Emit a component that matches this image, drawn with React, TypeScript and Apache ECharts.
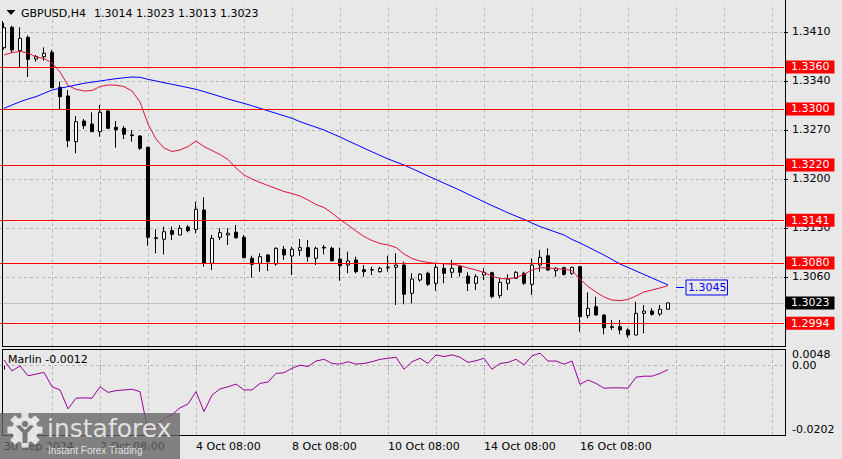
import React, { useEffect, useRef } from "react";
import * as echarts from "echarts";

// ---------- data ----------
const symbolTitle = "GBPUSD,H4";
const headerOHLC = ["1.3014", "1.3023", "1.3013", "1.3023"];
const indicatorTitle = "Marlin -0.0012";

const opens = [
  1.33876, 1.34168, 1.33833, 1.34024, 1.33714, 1.33747, 1.3381, 1.3331, 1.33186, 1.32533,
  1.32829, 1.32786, 1.32676, 1.32971, 1.32739, 1.32724, 1.3263, 1.32614, 1.32453, 1.3116,
  1.31139, 1.31262, 1.312, 1.31314, 1.31281, 1.31557, 1.30796, 1.31167, 1.312, 1.31239,
  1.31167, 1.30867, 1.30796, 1.30914, 1.30786, 1.30996, 1.309, 1.30981, 1.31019, 1.30867,
  1.31024, 1.3101, 1.30857, 1.30771, 1.30843, 1.30704, 1.30705, 1.30676, 1.3073, 1.30739,
  1.30771, 1.30367, 1.30557, 1.30653, 1.3051, 1.30724, 1.30667, 1.30747, 1.30614, 1.3051,
  1.30629, 1.30661, 1.30333, 1.3051, 1.30581, 1.30653, 1.30496, 1.30771, 1.30904, 1.30691,
  1.30733, 1.30653, 1.30747, 1.30047, 1.30176, 1.30057, 1.2989, 1.2989, 1.29843, 1.29771,
  1.30081, 1.30114, 1.30071, 1.3014,
];
const closes = [
  1.34161, 1.33843, 1.3401, 1.3371, 1.3375, 1.33796, 1.33304, 1.33176, 1.32547, 1.32819,
  1.32761, 1.32676, 1.32953, 1.32724, 1.32704, 1.32639, 1.3262, 1.32439, 1.31167, 1.3115,
  1.31247, 1.3121, 1.31296, 1.31262, 1.31567, 1.30796, 1.31153, 1.31233, 1.31224, 1.31161,
  1.30876, 1.30781, 1.3089, 1.30819, 1.3101, 1.30914, 1.30996, 1.31019, 1.3089, 1.3101,
  1.31014, 1.30833, 1.30761, 1.30829, 1.30676, 1.30676, 1.307, 1.30724, 1.3074, 1.30771,
  1.30353, 1.30571, 1.30639, 1.30496, 1.30739, 1.30653, 1.30724, 1.30667, 1.3051, 1.30604,
  1.30667, 1.30319, 1.30524, 1.30571, 1.30667, 1.3051, 1.30771, 1.30881, 1.307, 1.30724,
  1.30639, 1.30739, 1.30033, 1.30153, 1.30057, 1.29876, 1.2988, 1.29843, 1.29771, 1.30081,
  1.30114, 1.30067, 1.30139, 1.3023,
];
const lows = [
  1.3385, 1.338, 1.3359, 1.33457, 1.33676, 1.3369, 1.333, 1.32996, 1.32453, 1.32367,
  1.32714, 1.3267, 1.32604, 1.32714, 1.32447, 1.32571, 1.32533, 1.32414, 1.31047, 1.30939,
  1.30924, 1.31129, 1.312, 1.31239, 1.31224, 1.30747, 1.307, 1.31129, 1.31057, 1.3115,
  1.30867, 1.3059, 1.30676, 1.30686, 1.30762, 1.30843, 1.30629, 1.30904, 1.30819, 1.30771,
  1.30924, 1.30819, 1.30547, 1.30653, 1.30653, 1.30604, 1.30629, 1.30662, 1.30676, 1.302,
  1.3021, 1.30224, 1.30533, 1.30471, 1.30404, 1.3051, 1.3059, 1.30604, 1.304, 1.30414,
  1.30557, 1.30296, 1.30296, 1.30414, 1.30571, 1.30486, 1.30343, 1.30676, 1.30686, 1.30604,
  1.30619, 1.3063, 1.29819, 1.3001, 1.3005, 1.29781, 1.29843, 1.29781, 1.29733, 1.29771,
  1.29796, 1.30047, 1.30043, 1.3013,
];
const highs = [
  1.34229, 1.3419, 1.34167, 1.3405, 1.33771, 1.33881, 1.33843, 1.3339, 1.33271, 1.329,
  1.32857, 1.32953, 1.33057, 1.32986, 1.32829, 1.32757, 1.327, 1.32629, 1.3246, 1.31281,
  1.31319, 1.31319, 1.31343, 1.31343, 1.31676, 1.31739, 1.312, 1.31296, 1.31296, 1.31343,
  1.312, 1.30904, 1.30939, 1.30929, 1.31024, 1.31043, 1.31033, 1.31143, 1.31129, 1.31033,
  1.31057, 1.31033, 1.31019, 1.30961, 1.3089, 1.30771, 1.30747, 1.30747, 1.30904, 1.30939,
  1.30819, 1.30653, 1.30653, 1.30676, 1.30796, 1.30796, 1.30843, 1.30771, 1.30667, 1.30639,
  1.30724, 1.30676, 1.30581, 1.30639, 1.30686, 1.30676, 1.30867, 1.30986, 1.3101, 1.30739,
  1.30747, 1.30747, 1.30757, 1.30381, 1.30319, 1.30071, 1.29986, 1.29986, 1.29867, 1.30247,
  1.302, 1.30153, 1.302, 1.3023,
];
const redMA = [
  1.33771, 1.33807, 1.33821, 1.338, 1.33743, 1.33721, 1.33657, 1.33529, 1.33336, 1.33281,
  1.33257, 1.33264, 1.33321, 1.33343, 1.3334, 1.33321, 1.33257, 1.331, 1.32786, 1.32571,
  1.32443, 1.32393, 1.32414, 1.32464, 1.32543, 1.32464, 1.32407, 1.3235, 1.32279, 1.32157,
  1.32057, 1.32, 1.3195, 1.31907, 1.31864, 1.31821, 1.31793, 1.31757, 1.317, 1.31636,
  1.31593, 1.31514, 1.31421, 1.31343, 1.31257, 1.31179, 1.31121, 1.31079, 1.31057, 1.31021,
  1.30929, 1.30864, 1.30829, 1.30807, 1.30796, 1.30789, 1.30783, 1.30764, 1.30729, 1.307,
  1.30664, 1.30614, 1.30579, 1.30571, 1.30593, 1.30639, 1.307, 1.30733, 1.30729, 1.30719,
  1.3071, 1.30693, 1.30571, 1.30464, 1.30386, 1.30314, 1.30271, 1.30261, 1.30279, 1.30329,
  1.30386, 1.30414, 1.30443, 1.30476,
];
const blueMA = [
  1.3301, 1.33057, 1.33103, 1.33143, 1.33176, 1.33224, 1.33271, 1.33297, 1.33319, 1.33343,
  1.33367, 1.33384, 1.334, 1.33417, 1.33433, 1.33446, 1.33457, 1.33453, 1.33424, 1.334,
  1.33376, 1.33353, 1.33329, 1.33306, 1.33281, 1.33249, 1.33214, 1.33179, 1.33143, 1.33111,
  1.33081, 1.33046, 1.3301, 1.32974, 1.32939, 1.32903, 1.32867, 1.32819, 1.32779, 1.3274,
  1.327, 1.3265, 1.326, 1.32546, 1.32493, 1.3244, 1.32389, 1.32337, 1.32287, 1.32243,
  1.322, 1.32149, 1.32096, 1.32043, 1.31993, 1.3194, 1.3189, 1.31839, 1.31783, 1.31729,
  1.31673, 1.3162, 1.31569, 1.31517, 1.31469, 1.31424, 1.31371, 1.31321, 1.31281, 1.3124,
  1.312, 1.31136, 1.31086, 1.31029, 1.30971, 1.30914, 1.3085, 1.30786, 1.30736, 1.30686,
  1.30636, 1.30586, 1.30536, 1.30486,
];
const marlin = [
  0.0016, -0.0016, -0.0001, -0.003, -0.0025, -0.002, -0.0062, -0.0071, -0.0126, -0.0095,
  -0.0094, -0.0095, -0.0062, -0.0078, -0.0073, -0.0071, -0.0069, -0.0076, -0.019, -0.0178,
  -0.0153, -0.0143, -0.0123, -0.0112, -0.0076, -0.0134, -0.0086, -0.0068, -0.0062, -0.0054,
  -0.0071, -0.0071, -0.0052, -0.0048, -0.0023, -0.0021, -0.0008, 0.0001, -0.0003, 0.0013,
  0.0018, 0.0006, 0.0004, 0.0011, 0.0004, 0.0006, 0.0011, 0.0018, 0.0021, 0.0024,
  -0.0011, 0.0011, 0.0021, 0.0006, 0.0031, 0.0026, 0.0031, 0.0024, 0.0009, 0.0014,
  0.0021, -0.0011, 0.0006, 0.0009, 0.0018, 0.0002, 0.0028, 0.0036, 0.0013, 0.0013,
  0.0004, 0.0013, -0.0055, -0.0042, -0.0052, -0.0066, -0.0065, -0.0065, -0.0066, -0.0034,
  -0.0031, -0.0031, -0.0023, -0.0012,
];
const levels = [1.336, 1.33, 1.322, 1.3141, 1.308, 1.2994];
const currentPrice = 1.3023;
const blueTag = 1.3045;
const priceTicks = [1.306, 1.313, 1.32, 1.327, 1.334, 1.341];
const priceMin = 1.296071;
const priceMax = 1.345;
const marlinMax = 0.0048;
const marlinMin = -0.0202;
const marlinLevel = 0;
const xTickLabels = [
  "30 Sep 2024",
  "2 Oct 08:00",
  "4 Oct 08:00",
  "8 Oct 08:00",
  "10 Oct 08:00",
  "14 Oct 08:00",
  "16 Oct 08:00",
];
const firstBarTime = "2024-09-30T08:00:00Z";
const totalSlots = 98;
const gridEveryBars = 6;

// ---------- helpers ----------
const MONTHS = ["Jan", "Feb", "Mar", "Apr", "May", "Jun", "Jul", "Aug", "Sep", "Oct", "Nov", "Dec"];
function buildBarTimes(start: string, count: number): string[] {
  const out: string[] = [];
  let t = Date.parse(start);
  while (out.length < count) {
    const d = new Date(t);
    const wd = d.getUTCDay();
    if (wd !== 0 && wd !== 6) {
      out.push(
        `${d.getUTCDate()} ${MONTHS[d.getUTCMonth()]} ${String(d.getUTCHours()).padStart(2, "0")}:00`
      );
    }
    t += 4 * 3600 * 1000;
  }
  return out;
}
const barTimes = buildBarTimes(firstBarTime, totalSlots);
const isLabeled = (index: number, value: string) => index === 0 || xTickLabels.includes(value);

const FONT = "DejaVu Sans";
const BG = "#e8e8e8";
const GRIDC = "#b8b8b8";

export default function App() {
  const ref = useRef<HTMLDivElement>(null);

  useEffect(() => {
    const el = ref.current;
    if (!el) return;
    const chart = echarts.init(el, null, { renderer: "svg" });

    const candles = opens.map((o, i) => [o, closes[i], lows[i], highs[i]]);
    const vIdx: number[] = [];
    for (let i = gridEveryBars; i < totalSlots; i += gridEveryBars) vIdx.push(i);

    const boxLabel = (text: string, bg: string) => ({
      show: true,
      position: "end",
      distance: 2,
      formatter: text,
      backgroundColor: bg,
      color: "#ffffff",
      fontFamily: FONT,
      fontSize: 11,
      lineHeight: 12,
      padding: [1, 5, 0, 5],
    });
    const plainLabel = (text: string, va: string) => ({
      show: true,
      position: "end",
      distance: 8,
      formatter: text,
      color: "#000000",
      opacity: 1,
      fontFamily: FONT,
      fontSize: 11,
      verticalAlign: va,
    });

    const light = "rgba(236,236,236,0.92)";
    const wmGray = "rgba(100,100,100,0.78)";
    const gcx = 25;
    const gcy = 430;
    const teeth = Array.from({ length: 8 }, (_, i) => {
      const a = (i * Math.PI) / 4;
      return {
        type: "rect",
        x: gcx + 14 * Math.cos(a),
        y: gcy + 14 * Math.sin(a),
        rotation: -a,
        shape: { x: -3.5, y: -3.5, width: 7, height: 7 },
        style: { fill: light },
        z: 101,
      };
    });

    const frameLine = (x1: number, y1: number, x2: number, y2: number) => ({
      type: "line",
      shape: { x1, y1, x2, y2 },
      style: { stroke: "#000000", lineWidth: 1 },
      z: 50,
      silent: true,
    });

    const option: any = {
      animation: false,
      backgroundColor: BG,
      grid: [
        { left: 0, top: 4, width: 784, height: 342.5, outerBoundsMode: "none" },
        { left: 0, top: 349, width: 784, height: 86, outerBoundsMode: "none" },
      ],
      xAxis: [
        {
          type: "category",
          gridIndex: 0,
          data: barTimes,
          boundaryGap: true,
          axisLine: { show: false },
          axisTick: { show: false },
          axisLabel: { show: false },
          splitLine: { show: false },
        },
        {
          type: "category",
          gridIndex: 1,
          data: barTimes,
          boundaryGap: true,
          axisLine: { show: false },
          axisTick: {
            show: true,
            alignWithLabel: true,
            length: 4,
            interval: (index: number, value: string) => isLabeled(index, value),
            lineStyle: { color: "#000000", width: 1 },
          },
          axisLabel: {
            show: true,
            interval: (index: number, value: string) => isLabeled(index, value),
            formatter: (value: string, index: number) => (index === 0 ? xTickLabels[0] : value),
            align: "left",
            margin: 6,
            color: "#000000",
            fontFamily: FONT,
            fontSize: 11,
          },
          splitLine: { show: false },
        },
      ],
      yAxis: [
        {
          type: "value",
          gridIndex: 0,
          position: "right",
          min: priceMin,
          max: priceMax,
          axisLine: { show: false },
          axisTick: {
            show: true,
            length: 4,
            customValues: priceTicks,
            lineStyle: { color: "#000000", width: 1 },
          },
          axisLabel: {
            show: true,
            customValues: priceTicks,
            formatter: (v: number) => v.toFixed(4),
            margin: 8,
            color: "#000000",
            fontFamily: FONT,
            fontSize: 11,
          },
          splitLine: { show: false },
        },
        {
          type: "value",
          gridIndex: 1,
          position: "right",
          min: marlinMin,
          max: marlinMax,
          axisLine: { show: false },
          axisTick: { show: false },
          axisLabel: { show: false },
          splitLine: { show: false },
        },
      ],
      series: [
        // main dashed grid
        {
          type: "line",
          xAxisIndex: 0,
          yAxisIndex: 0,
          data: [],
          silent: true,
          markLine: {
            silent: true,
            z: 1,
            symbol: ["none", "none"],
            precision: 6,
            label: { show: false },
            lineStyle: { color: GRIDC, type: [3, 3], width: 1 },
            data: [...priceTicks.map((v) => ({ yAxis: v })), ...vIdx.map((i) => ({ xAxis: i }))],
          },
        },
        // current price line
        {
          type: "line",
          xAxisIndex: 0,
          yAxisIndex: 0,
          data: [],
          silent: true,
          markLine: {
            silent: true,
            z: 2,
            symbol: ["none", "none"],
            precision: 6,
            lineStyle: { color: "#c0c0c0", type: "solid", width: 1 },
            data: [{ yAxis: currentPrice, label: boxLabel(currentPrice.toFixed(4), "#000000") }],
          },
        },
        {
          type: "candlestick",
          xAxisIndex: 0,
          yAxisIndex: 0,
          data: candles,
          barWidth: 4,
          z: 3,
          itemStyle: {
            color: "#ffffff",
            color0: "#000000",
            borderColor: "#000000",
            borderColor0: "#000000",
            borderColorDoji: "#000000",
            borderWidth: 1,
          },
        },
        {
          type: "line",
          xAxisIndex: 0,
          yAxisIndex: 0,
          data: redMA,
          symbol: "none",
          z: 4,
          lineStyle: { color: "#dc143c", width: 1 },
          itemStyle: { color: "#dc143c" },
        },
        {
          type: "line",
          xAxisIndex: 0,
          yAxisIndex: 0,
          data: blueMA,
          symbol: "none",
          z: 4,
          lineStyle: { color: "#0000ff", width: 1 },
          itemStyle: { color: "#0000ff" },
          markLine: {
            silent: true,
            z: 6,
            symbol: ["none", "none"],
            label: { show: false },
            lineStyle: { color: "#0000ff", type: "solid", width: 1 },
            data: [[{ coord: [84, blueTag] }, { coord: [85, blueTag] }]],
          },
          markPoint: {
            silent: true,
            z: 6,
            data: [
              {
                coord: [85, blueTag],
                symbol: "rect",
                symbolSize: [1, 1],
                itemStyle: { color: "rgba(0,0,0,0)" },
                label: {
                  show: true,
                  position: "right",
                  distance: 1.5,
                  formatter: blueTag.toFixed(4),
                  color: "#0000ff",
                  borderColor: "#0000ff",
                  borderWidth: 1,
                  padding: [2, 1, 1, 2],
                  fontFamily: FONT,
                  fontSize: 11,
                  lineHeight: 12,
                },
              },
            ],
          },
        },
        {
          type: "line",
          xAxisIndex: 0,
          yAxisIndex: 0,
          data: [],
          silent: true,
          markLine: {
            silent: true,
            z: 6,
            symbol: ["none", "none"],
            precision: 6,
            lineStyle: { color: "#ff0000", type: "solid", width: 1.2 },
            data: levels.map((v) => ({
              yAxis: v,
              label: boxLabel(v.toFixed(4), "#ff0000"),
            })),
          },
        },
        // indicator dashed grid + zero level
        {
          type: "line",
          xAxisIndex: 1,
          yAxisIndex: 1,
          data: [],
          silent: true,
          markLine: {
            silent: true,
            z: 1,
            symbol: ["none", "none"],
            precision: 6,
            label: { show: false },
            lineStyle: { color: GRIDC, type: [3, 3], width: 1 },
            data: [
              ...vIdx.map((i) => ({ xAxis: i })),
              { yAxis: marlinLevel, label: plainLabel(marlinLevel.toFixed(2), "middle") },
            ],
          },
        },
        // indicator scale labels (max / min)
        {
          type: "line",
          xAxisIndex: 1,
          yAxisIndex: 1,
          data: [],
          silent: true,
          markLine: {
            silent: true,
            z: 7,
            symbol: ["none", "none"],
            precision: 6,
            lineStyle: { color: "rgba(0,0,0,0)", width: 1, type: "solid" },
            data: [
              { yAxis: marlinMax, label: plainLabel(marlinMax.toFixed(4), "top") },
              { yAxis: marlinMin, label: plainLabel(marlinMin.toFixed(4), "bottom") },
            ],
          },
        },
        {
          type: "line",
          xAxisIndex: 1,
          yAxisIndex: 1,
          data: marlin,
          symbol: "none",
          z: 3,
          lineStyle: { color: "#990099", width: 1 },
          itemStyle: { color: "#990099" },
        },
      ],
      graphic: {
        elements: [
          // frames
          frameLine(2.5, 21, 2.5, 346.5),
          frameLine(785.5, 0, 785.5, 346.5),
          frameLine(2, 346.5, 786, 346.5),
          frameLine(2.5, 349.5, 2.5, 435.5),
          frameLine(785.5, 349.5, 785.5, 435.5),
          frameLine(2, 349.5, 786, 349.5),
          frameLine(2, 435.5, 786, 435.5),
          // header
          {
            type: "polygon",
            shape: { points: [[6.5, 10], [15.5, 10], [11, 15]] },
            style: { fill: "#000000" },
            z: 60,
          },
          {
            type: "text",
            x: 21,
            y: 13,
            style: {
              text: symbolTitle,
              fill: "#000000",
              font: `11px "${FONT}"`,
              align: "left",
              verticalAlign: "middle",
              textAlign: "left",
              textVerticalAlign: "middle",
            },
            z: 60,
          },
          {
            type: "text",
            x: 94,
            y: 13,
            style: {
              text: headerOHLC.join(" "),
              fill: "#000000",
              font: `11px "${FONT}"`,
              align: "left",
              verticalAlign: "middle",
              textAlign: "left",
              textVerticalAlign: "middle",
            },
            z: 60,
          },
          {
            type: "text",
            x: 8,
            y: 359,
            style: {
              text: indicatorTitle,
              fill: "#000000",
              font: `11px "${FONT}"`,
              align: "left",
              verticalAlign: "middle",
              textAlign: "left",
              textVerticalAlign: "middle",
            },
            z: 60,
          },
          // watermark
          {
            type: "rect",
            shape: { x: 0, y: 413, width: 180, height: 46 },
            style: { fill: wmGray },
            z: 100,
          },
          ...teeth,
          {
            type: "circle",
            shape: { cx: gcx, cy: gcy, r: 13 },
            style: { fill: light },
            z: 101,
          },
          {
            type: "circle",
            shape: { cx: gcx, cy: gcy - 6, r: 3.2 },
            style: { fill: "rgb(120,120,120)" },
            z: 102,
          },
          {
            type: "polygon",
            shape: {
              points: [
                [gcx - 9, gcy - 4],
                [gcx - 5, gcy - 5],
                [gcx, gcy],
                [gcx + 5, gcy - 5],
                [gcx + 9, gcy - 4],
                [gcx + 2.5, gcy + 3],
                [gcx + 2.5, gcy + 13],
                [gcx - 2.5, gcy + 13],
                [gcx - 2.5, gcy + 3],
              ],
            },
            style: { fill: "rgb(120,120,120)" },
            z: 102,
          },
          {
            type: "text",
            x: 47,
            y: 428,
            style: {
              text: "instaforex",
              fill: light,
              font: `25px "${FONT}"`,
              align: "left",
              verticalAlign: "middle",
              textAlign: "left",
              textVerticalAlign: "middle",
            },
            z: 101,
          },
          {
            type: "text",
            x: 48,
            y: 450,
            style: {
              text: "Instant Forex Trading",
              fill: light,
              font: `10px "Liberation Sans"`,
              align: "left",
              verticalAlign: "middle",
              textAlign: "left",
              textVerticalAlign: "middle",
            },
            z: 101,
          },
        ],
      },
    };

    chart.setOption(option);
    return () => {
      chart.dispose();
    };
  }, []);

  return (
    <div
      ref={ref}
      style={{ position: "fixed", left: 0, top: 0, width: 842, height: 459, background: BG }}
    />
  );
}
